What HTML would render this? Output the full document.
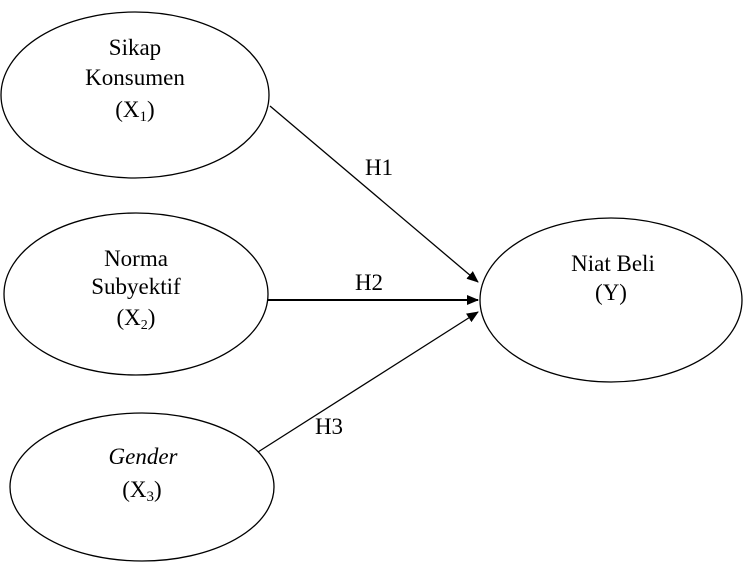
<!DOCTYPE html>
<html><head><style>body{margin:0;background:#fff}svg{display:block}text{font-family:"Liberation Serif",serif;font-size:23px;fill:#000}</style></head><body>
<svg width="743" height="562" viewBox="0 0 743 562">
<defs><marker id="a" markerWidth="12" markerHeight="10" refX="11" refY="5" orient="auto" markerUnits="userSpaceOnUse"><path d="M0,0 L12,5 L0,10 Z" fill="#000"/></marker></defs>
<g fill="none" stroke="#000" stroke-width="1.3">
<ellipse cx="135" cy="95" rx="134" ry="83"/>
<ellipse cx="136" cy="294" rx="132" ry="81"/>
<ellipse cx="142" cy="487" rx="132" ry="74"/>
<ellipse cx="611" cy="300" rx="131" ry="82"/>
<line x1="270" y1="106" x2="478" y2="282" marker-end="url(#a)"/>
<line x1="268" y1="300" x2="478" y2="300" stroke-width="2" marker-end="url(#a)"/>
<line x1="258" y1="452" x2="478" y2="312" marker-end="url(#a)"/>
</g>
<g text-anchor="middle">
<text x="135" y="55">Sikap</text>
<text x="135" y="85">Konsumen</text>
<text x="135" y="117">(X<tspan font-size="15" dy="4">1</tspan><tspan dy="-4">)</tspan></text>
<text x="136" y="266" font-size="22">Norma</text>
<text x="136" y="294" font-size="22">Subyektif</text>
<text x="136" y="325" font-size="22">(X<tspan font-size="14" dy="4">2</tspan><tspan dy="-4">)</tspan></text>
<text x="143" y="464" font-style="italic" font-size="24">Gender</text>
<text x="142" y="497">(X<tspan font-size="15" dy="4">3</tspan><tspan dy="-4">)</tspan></text>
<text x="613" y="271" font-size="22">Niat Beli</text>
<text x="611" y="300" font-size="22">(Y)</text>
<text x="379" y="175">H1</text>
<text x="369" y="290">H2</text>
<text x="329" y="434">H3</text>
</g>
</svg>
</body></html>
